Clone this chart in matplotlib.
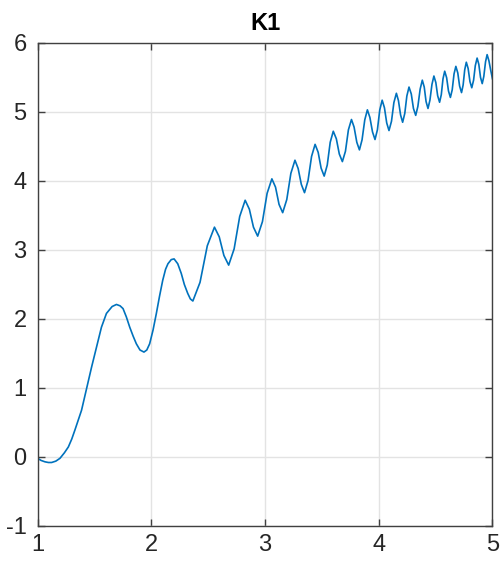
import matplotlib.pyplot as plt
import matplotlib.ticker as ticker

plt.rcParams['font.family'] = ['Liberation Sans', 'DejaVu Sans']
plt.rcParams['axes.unicode_minus'] = False

# points (x, y)
xs = [1.0, 1.03, 1.064, 1.095, 1.123, 1.16, 1.196, 1.235, 1.27, 1.30, 1.327, 1.386, 1.43,
      1.474, 1.518, 1.561, 1.605, 1.655, 1.693, 1.725, 1.751, 1.78, 1.81, 1.84, 1.868,
      1.90, 1.935, 1.96, 1.985, 2.015, 2.044, 2.072, 2.10, 2.125, 2.146, 2.175, 2.20,
      2.232, 2.263, 2.29, 2.32, 2.343, 2.365,
      2.428, 2.492, 2.555, 2.597, 2.638, 2.68, 2.728, 2.777, 2.825, 2.862, 2.898, 2.935,
      2.977, 3.018, 3.06, 3.092, 3.123, 3.155, 3.191, 3.227, 3.263, 3.291, 3.319, 3.347,
      3.378, 3.409, 3.44, 3.467, 3.493, 3.52, 3.547, 3.573, 3.60, 3.627, 3.653, 3.68,
      3.707, 3.733, 3.76, 3.783, 3.807, 3.83, 3.853, 3.877, 3.90, 3.922, 3.945, 3.967,
      3.988, 4.009, 4.03, 4.05, 4.07, 4.09, 4.112, 4.133, 4.155, 4.173, 4.192, 4.21,
      4.229, 4.247, 4.266, 4.286, 4.305, 4.325, 4.344, 4.364, 4.383, 4.40, 4.416, 4.433,
      4.45, 4.468, 4.485, 4.502, 4.518, 4.535, 4.55, 4.565, 4.58, 4.597, 4.613, 4.63,
      4.646, 4.662, 4.678, 4.695, 4.711, 4.728, 4.742, 4.756, 4.77, 4.786, 4.802, 4.818,
      4.834, 4.849, 4.865, 4.88, 4.895, 4.91, 4.924, 4.939, 4.953, 4.969, 4.985, 5.0]
ys = [-0.02, -0.05, -0.07, -0.08, -0.08, -0.06, -0.02, 0.06, 0.145, 0.26, 0.387, 0.677, 0.99,
      1.30, 1.59, 1.88, 2.08, 2.18, 2.21, 2.19, 2.15, 2.03, 1.88, 1.75, 1.64,
      1.55, 1.52, 1.55, 1.64, 1.84, 2.08, 2.33, 2.56, 2.72, 2.80, 2.86, 2.87,
      2.80, 2.66, 2.50, 2.37, 2.29, 2.26,
      2.53, 3.06, 3.33, 3.19, 2.92, 2.78, 3.015, 3.485, 3.72, 3.59, 3.33, 3.20,
      3.41, 3.82, 4.03, 3.91, 3.66, 3.54, 3.73, 4.11, 4.30, 4.18, 3.95, 3.83,
      4.005, 4.355, 4.53, 4.415, 4.185, 4.07, 4.23, 4.56, 4.72, 4.61, 4.39, 4.28,
      4.43, 4.74, 4.89, 4.78, 4.56, 4.45, 4.595, 4.885, 5.03, 4.92, 4.71, 4.60,
      4.74, 5.03, 5.17, 5.06, 4.84, 4.73, 4.865, 5.135, 5.27, 5.165, 4.955, 4.85,
      4.98, 5.23, 5.36, 5.26, 5.05, 4.95, 5.08, 5.33, 5.46, 5.36, 5.15, 5.05,
      5.17, 5.40, 5.52, 5.425, 5.235, 5.14, 5.25, 5.48, 5.59, 5.495, 5.305, 5.21,
      5.32, 5.55, 5.66, 5.565, 5.375, 5.28, 5.39, 5.61, 5.72, 5.63, 5.44, 5.35,
      5.46, 5.67, 5.78, 5.69, 5.50, 5.41, 5.515, 5.725, 5.83, 5.74, 5.60, 5.48]

fig = plt.figure(figsize=(5.02, 5.69), dpi=100)
ax = fig.add_axes([0.075, 0.0756, 0.906, 0.849])
ax.plot(xs, ys, color='#0072BD', lw=1.2, solid_joinstyle='round')

ax.set_xlim(1, 5)
ax.set_ylim(-1, 6)
ax.xaxis.set_major_locator(ticker.MultipleLocator(1))
ax.yaxis.set_major_locator(ticker.MultipleLocator(1))
ax.grid(color='#e3e3e3', lw=1.0)
ax.set_axisbelow(True)
for s in ax.spines.values():
    s.set_color('#404040')
    s.set_linewidth(1.0)
ax.tick_params(direction='in', length=5, width=1, color='#404040',
               top=True, right=True, labelsize=17, labelcolor='#262626')
ax.tick_params(axis='x', pad=6)
ax.tick_params(axis='y', pad=8)
ax.set_title('K1', fontsize=17, fontweight='bold', pad=9)

fig.savefig('out.png', dpi=100)
